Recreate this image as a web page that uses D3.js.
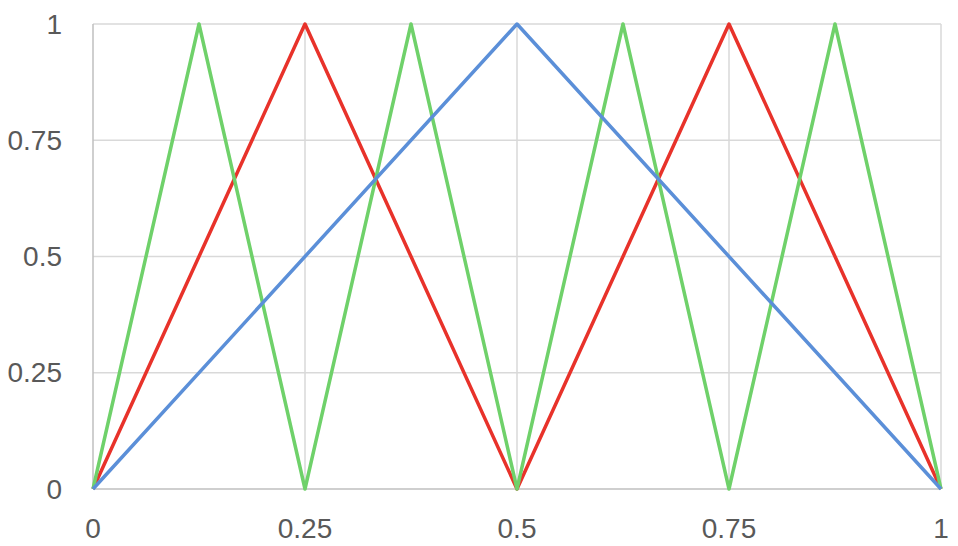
<!DOCTYPE html>
<html>
<head>
<meta charset="utf-8">
<script src="https://cdn.jsdelivr.net/npm/d3@7"></script>
<style>
  html, body { margin: 0; padding: 0; background: #fff; }
  svg { display: block; }
</style>
</head>
<body>
<svg id="chart" width="958" height="546"></svg>
<script>
const xTicks = [0, 0.25, 0.5, 0.75, 1];
const yTicks = [0, 0.25, 0.5, 0.75, 1];

const blueX = [0, 0.5, 1];
const blueY = [0, 1, 0];
const redX = [0, 0.25, 0.5, 0.75, 1];
const redY = [0, 1, 0, 1, 0];
const greenX = [0, 0.125, 0.25, 0.375, 0.5, 0.625, 0.75, 0.875, 1];
const greenY = [0, 1, 0, 1, 0, 1, 0, 1, 0];

const seriesNames = ["red", "green", "blue"];
const seriesColors = ["#e8322a", "#6fd16a", "#5b8fd8"];

(function () {
const svg = d3.select("#chart");
const mLeft = 93, mRight = 941, mTop = 24, mBottom = 489;

const x = d3.scaleLinear().domain([0, 1]).range([mLeft, mRight]);
const y = d3.scaleLinear().domain([0, 1]).range([mBottom, mTop]);

const font = "'Liberation Sans', Arial, sans-serif";

// horizontal gridlines
svg.append("g").selectAll("line").data(yTicks.filter(d => d > 0)).join("line")
  .attr("x1", mLeft).attr("x2", mRight)
  .attr("y1", d => y(d)).attr("y2", d => y(d))
  .attr("stroke", "#d9d9d9").attr("stroke-width", 1.5);

// vertical gridlines
svg.append("g").selectAll("line").data(xTicks.filter(d => d > 0)).join("line")
  .attr("x1", d => x(d)).attr("x2", d => x(d))
  .attr("y1", mTop).attr("y2", mBottom)
  .attr("stroke", "#d9d9d9").attr("stroke-width", 1.5);

// axis lines
svg.append("line").attr("x1", mLeft).attr("x2", mLeft).attr("y1", mTop).attr("y2", mBottom)
  .attr("stroke", "#bfbfbf").attr("stroke-width", 1.5);
svg.append("line").attr("x1", mLeft).attr("x2", mRight).attr("y1", mBottom).attr("y2", mBottom)
  .attr("stroke", "#bfbfbf").attr("stroke-width", 1.5);

// y labels
svg.append("g").selectAll("text").data(yTicks).join("text")
  .attr("x", 62).attr("y", d => y(d))
  .attr("text-anchor", "end").attr("dominant-baseline", "central")
  .attr("font-family", font).attr("font-size", 28).attr("fill", "#595959")
  .text(d => String(d));

// x labels
svg.append("g").selectAll("text").data(xTicks).join("text")
  .attr("x", d => x(d)).attr("y", 538)
  .attr("text-anchor", "middle")
  .attr("font-family", font).attr("font-size", 28).attr("fill", "#595959")
  .text(d => String(d));

const line = d3.line().x(d => x(d[0])).y(d => y(d[1]));
const seriesData = [
  d3.zip(redX, redY),
  d3.zip(greenX, greenY),
  d3.zip(blueX, blueY)
];

svg.append("g").selectAll("path").data(seriesData).join("path")
  .attr("d", d => line(d))
  .attr("fill", "none")
  .attr("stroke", (d, i) => seriesColors[i])
  .attr("stroke-width", 3.5)
  .attr("stroke-linejoin", "round");
})();
</script>
</body>
</html>
